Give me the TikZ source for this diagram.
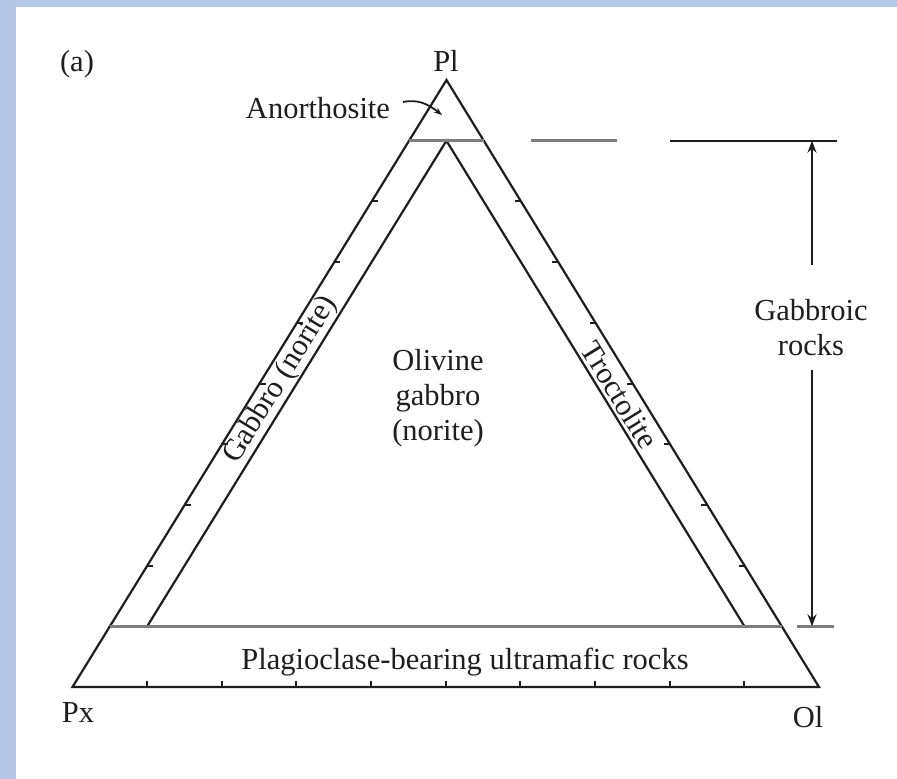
\documentclass[tikz,border=0pt]{standalone}
\usepackage{fontspec}
\setmainfont{Liberation Serif}
\usetikzlibrary{arrows.meta,calc}
\definecolor{bgblue}{RGB}{180,199,231}
\definecolor{ink}{RGB}{30,30,30}
\definecolor{rulegray}{RGB}{125,125,125}
\begin{document}
\begin{tikzpicture}[x=1pt,y=-1pt,
  edge/.style={draw=ink,line width=2.2pt,line join=miter},
  band/.style={draw=rulegray,line width=3.2pt},
  tick/.style={draw=ink,line width=2pt},
  lbl/.style={font=\fontsize{30.5}{35}\selectfont,text=ink,inner sep=0pt,align=center},
  dimarrow/.style={draw=ink,line width=2.2pt,-{Stealth[length=12pt,width=9pt]}}]
\useasboundingbox (0,0) rectangle (897,779);
\fill[bgblue] (0,0) rectangle (897,779);
\fill[white] (16,7) rectangle (897,779);
% vertices
\coordinate (Pl) at (446.5,80);
\coordinate (Px) at (72.5,687);
\coordinate (Ol) at (819,687);
% 90% and 10% plagioclase lines
\coordinate (AL) at ($(Pl)!0.1!(Px)$);
\coordinate (AR) at ($(Pl)!0.1!(Ol)$);
\coordinate (BL) at ($(Pl)!0.9!(Px)$);
\coordinate (BR) at ($(Pl)!0.9!(Ol)$);
% inner triangle (5% Ol / 5% Px)
\coordinate (IA) at ($(AL)!0.5!(AR)$);
\coordinate (IL) at ($(BL)+(37.3,0)$);
\coordinate (IR) at ($(BR)+(-37.3,0)$);
% outer triangle
\draw[edge] (Px) -- (Pl) -- (Ol) -- cycle;
% ticks
\foreach \k in {1,...,9}{
  \draw[tick] ($(Px)!\k/10!(Pl)$) -- ++(6,0);
  \draw[tick] ($(Ol)!\k/10!(Pl)$) -- ++(-6,0);
  \draw[tick] ($(Px)!\k/10!(Ol)$) -- ++(0,-6);
}
% inner lines
\draw[edge] (IL) -- (IA) -- (IR);
\draw[band] (AL) -- (AR);
\draw[band] (BL) -- (BR);
% right-hand dimension
\coordinate (H1) at (531,140.7);
\coordinate (H2) at (617,140.7);
\coordinate (H3) at (670,140.7);
\coordinate (H4) at (837,140.7);
\coordinate (H5) at (797,626.3);
\coordinate (H6) at (834,626.3);
\draw[band] (H1) -- (H2);
\draw[edge] (H3) -- (H4);
\draw[band] (H5) -- (H6);
\coordinate (T1) at (812,140.7);
\coordinate (T2) at (812,626.3);
\coordinate (G1) at (812,265);
\coordinate (G2) at (812,370);
\draw[dimarrow] (G1) -- (T1);
\draw[dimarrow] (G2) -- (T2);
\node[lbl] (gab) at (811,328) {Gabbroic\\rocks};
% labels
\node[lbl] (a) at (77,64) {(a)};
\node[lbl] (plL) at (446,61) {Pl};
\node[lbl] (pxL) at (78,713) {Px};
\node[lbl] (olL) at (808,717) {Ol};
\node[lbl] (ano) at (318,108) {Anorthosite};
\coordinate (A1) at (403,102);
\coordinate (A2) at (442,115);
\draw[draw=ink,line width=1.8pt,-{Stealth[length=8pt,width=6pt]}] (A1) .. controls (418,99) and (428,104) .. (A2);
\node[lbl] (olg) at (438,398) {Olivine\\gabbro\\(norite)};
\node[lbl,rotate=58.4] (gn) at (281,380) {Gabbro (norite)};
\node[lbl,rotate=-58.4] (tr) at (620,395) {Troctolite};
\node[lbl] (pbu) at (465,662) {Plagioclase-bearing ultramafic rocks};
\end{tikzpicture}
\end{document}
